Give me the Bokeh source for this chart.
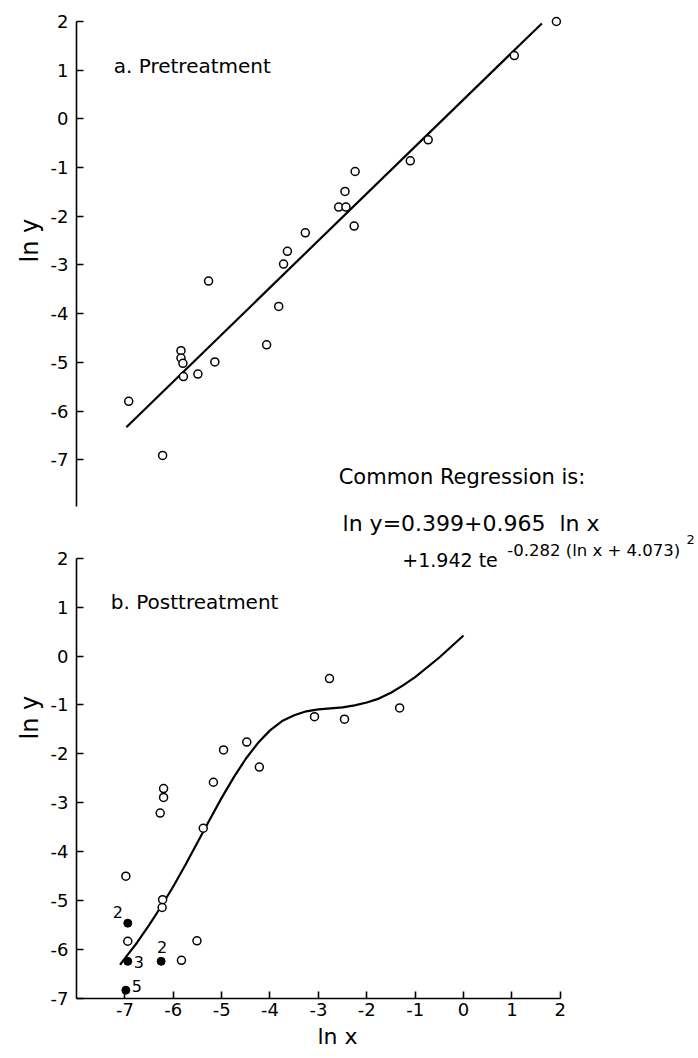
from bokeh.plotting import figure
from bokeh.models import Range1d, FixedTicker, Label, ColumnDataSource, Title
from bokeh.layouts import column
from bokeh.embed import file_html
from bokeh.resources import INLINE
from bokeh.core.properties import value

# ---------------- data ----------------
tick_values = [-7, -6, -5, -4, -3, -2, -1, 0, 1, 2]

# a. Pretreatment observations (ln x, ln y)
pre_lnx = [-6.92, -6.22, -5.84, -5.84, -5.80, -5.79, -5.49, -5.27, -5.14, -4.07,
           -3.82, -3.72, -3.64, -3.27, -2.58, -2.43, -2.45, -2.24, -2.26, -1.10,
           -0.73, 1.05, 1.92]
pre_lny = [-5.80, -6.91, -4.76, -4.91, -5.02, -5.29, -5.24, -3.33, -4.99, -4.64,
           -3.85, -2.98, -2.72, -2.34, -1.81, -1.81, -1.49, -1.08, -2.20, -0.86,
           -0.43, 1.30, 2.00]
# fitted straight line (pretreatment)
pre_fit_lnx = [-6.97, 1.62]
pre_fit_lny = [-6.33, 1.96]

# b. Posttreatment observations, open circles
post_lnx = [-6.98, -6.94, -6.27, -6.20, -6.20, -6.22, -6.23, -5.83, -5.51, -5.38,
            -5.17, -4.96, -4.48, -4.22, -3.08, -2.77, -2.46, -1.32]
post_lny = [-4.50, -5.83, -3.21, -2.89, -2.71, -4.98, -5.14, -6.22, -5.82, -3.52,
            -2.58, -1.92, -1.76, -2.27, -1.24, -0.46, -1.29, -1.06]
# filled circles with multiplicity counts
multi_lnx = [-6.94, -6.94, -6.25, -6.98]
multi_lny = [-5.46, -6.24, -6.24, -6.83]
multi_count = ["2", "3", "2", "5"]
# fitted curve (posttreatment)
post_fit_lnx = [-7.1, -7.0, -6.75, -6.5, -6.25, -6.0, -5.75, -5.5, -5.25, -5.0,
                -4.75, -4.5, -4.25, -4.0, -3.75, -3.5, -3.25, -3.0, -2.75, -2.5,
                -2.25, -2.0, -1.75, -1.5, -1.25, -1.0, -0.5, 0.0]
post_fit_lny = [-6.31, -6.18, -5.86, -5.50, -5.12, -4.71, -4.27, -3.81, -3.35, -2.90,
                -2.48, -2.10, -1.78, -1.52, -1.33, -1.21, -1.13, -1.09, -1.07, -1.05,
                -1.01, -0.95, -0.87, -0.75, -0.60, -0.43, -0.03, 0.42]

# ---------------- style ----------------
FONT = "DejaVu Sans"
W = 698
LEFT = 76
X_RANGE = (-8, 4.858)
TOP_H = 508
BOT_H = 550


def style_axis(ax, bounds, standoff):
    ax.ticker = FixedTicker(ticks=tick_values)
    ax.major_label_overrides = {t: str(t) for t in tick_values}
    ax.bounds = bounds
    ax.major_tick_in = 7
    ax.major_tick_out = 0
    ax.minor_tick_in = 0
    ax.minor_tick_out = 0
    ax.axis_line_width = 1.6
    ax.axis_line_color = "black"
    ax.major_tick_line_width = 1.6
    ax.major_tick_line_color = "black"
    ax.major_label_text_font = FONT
    ax.major_label_text_font_size = "18px"
    ax.major_label_text_color = "black"
    ax.major_label_standoff = standoff


def lab(p, x, y, text, size, align="left"):
    p.add_layout(Label(x=x, y=y, text=text, text_font=FONT, text_font_size=size,
                       text_color="black", text_baseline="middle", text_align=align))


def side_title(p, text, side, offset, standoff, size):
    p.add_layout(Title(text=text, align="left", offset=offset, standoff=standoff,
                       text_font=FONT, text_font_size=size, text_font_style="normal",
                       text_color="black"), side)


# ---------------- top panel ----------------
p1 = figure(width=W, height=TOP_H, x_range=Range1d(*X_RANGE), y_range=Range1d(-8.0, 2.431),
            output_backend="svg", toolbar_location=None, x_axis_location=None,
            min_border_left=LEFT, min_border_right=0, min_border_top=0, min_border_bottom=0)
p1.outline_line_color = None
p1.grid.visible = False
style_axis(p1.yaxis[0], (-7.95, 2), 8)

p1.line(pre_fit_lnx, pre_fit_lny, line_width=2.2, line_color="black")
p1.scatter(pre_lnx, pre_lny, size=8, fill_color="white", line_color="black", line_width=1.5)

lab(p1, -7.23, 1.076, "a. Pretreatment", "20px")
lab(p1, -2.58, -7.36, "Common Regression is:", "21px")
side_title(p1, "ln y", "left", 246, 8, "24px")

# ---------------- bottom panel ----------------
p2 = figure(width=W, height=BOT_H, x_range=Range1d(*X_RANGE), y_range=Range1d(-7, 3.015),
            output_backend="svg", toolbar_location=None,
            min_border_left=LEFT, min_border_right=0, min_border_top=0, min_border_bottom=60)
p2.outline_line_color = None
p2.grid.visible = False
style_axis(p2.yaxis[0], (-7, 2), 8)
style_axis(p2.xaxis[0], (-8, 2), 4)

p2.line(post_fit_lnx, post_fit_lny, line_width=2.2, line_color="black")
p2.scatter(post_lnx, post_lny, size=8, fill_color="white", line_color="black", line_width=1.5)
p2.scatter(multi_lnx, multi_lny, size=8, fill_color="black", line_color="black")

src = ColumnDataSource(dict(x=multi_lnx, y=multi_lny, t=multi_count,
                            dx=[-10, 11, 1, 11], dy=[-11, 1, -14, -4]))
p2.text(x="x", y="y", text="t", x_offset="dx", y_offset="dy", source=src,
        text_font=value(FONT), text_font_size="16px", text_color="black",
        text_align="center", text_baseline="middle")

lab(p2, -2.50, 2.708, "ln y=0.399+0.965\u00a0\u00a0ln x", "22px")
lab(p2, -1.265, 1.953, "+1.942 te", "19px")
lab(p2, 0.905, 2.157, "-0.282 (ln x + 4.073)", "16.5px")
lab(p2, 4.61, 2.381, "2", "13px")
lab(p2, -7.29, 1.10, "b. Posttreatment", "20px")
side_title(p2, "ln y", "left", 259, 8, "24px")
side_title(p2, "ln x", "below", 241, 6, "22px")

layout = column(p1, p2, spacing=0)
open("out.html", "w").write(file_html(layout, INLINE))
